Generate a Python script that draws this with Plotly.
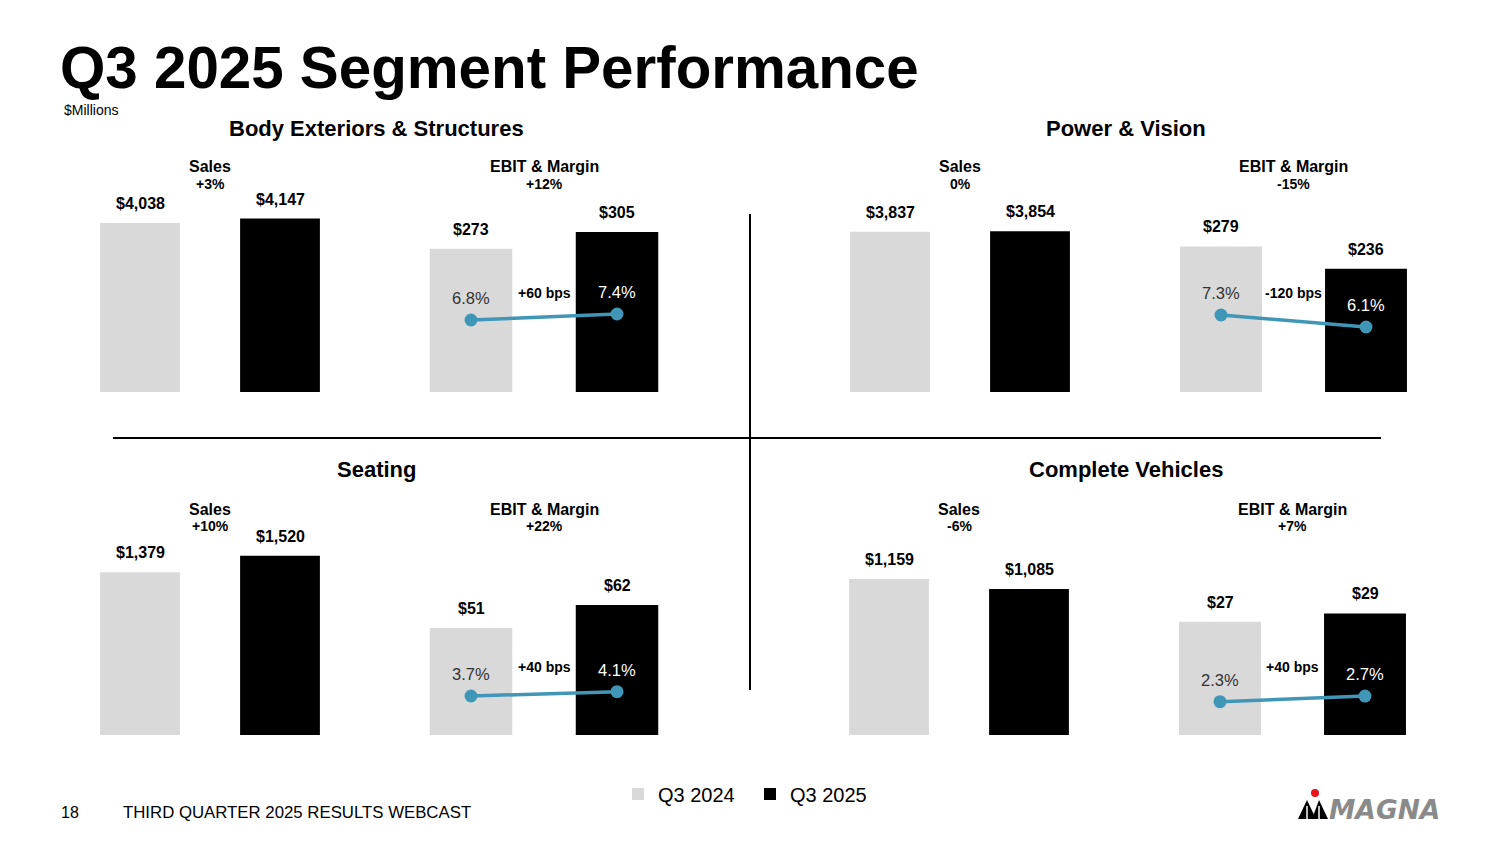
import plotly.graph_objects as go

# ---------------- data ----------------
periods = ["Q3 2024", "Q3 2025"]
segments = ["Body Exteriors & Structures", "Power & Vision", "Seating", "Complete Vehicles"]
sales_2024 = [4038, 3837, 1379, 1159]
sales_2025 = [4147, 3854, 1520, 1085]
sales_change = ["+3%", "0%", "+10%", "-6%"]
ebit_2024 = [273, 279, 51, 27]
ebit_2025 = [305, 236, 62, 29]
ebit_change = ["+12%", "-15%", "+22%", "+7%"]
margin_2024 = [6.8, 7.3, 3.7, 2.3]
margin_2025 = [7.4, 6.1, 4.1, 2.7]
margin_change = ["+60 bps", "-120 bps", "+40 bps", "+40 bps"]

# ---------------- styling / layout helpers ----------------
W, H = 1500, 844
OX, OY = 8, 8   # page body offset compensation
FONT = "Arial, Liberation Sans, sans-serif"
C_2024 = "#D9D9D9"
C_2025 = "#000000"
C_LINE = "#4096B6"


def px_x(x):
    return (x - OX) / W


def px_y(y):
    return 1 - (y - OY) / H


def sfx(n):
    return "" if n == 1 else str(n)


# per segment: (sales x px extent, ebit x px extent, y px extent [top,bottom])
seg_geom = [
    ((70, 350), (398, 690), (200, 392)),
    ((820, 1100), (1148.5, 1438.5), (200, 392)),
    ((70, 350), (398, 690), (543, 735)),
    ((819, 1099), (1147.5, 1437.5), (543, 735)),
]
sales_ranges = [4590, 4600, 1627, 1426]
ebit_ranges = [366, 368, 91.6, 45.8]
margin_ranges = [(-0.4, 18.8), (-0.4, 18.8), (0.07, 17.93), (-0.08, 13.63)]
title_pos = [(376, 129), (1126, 128), (376, 469), (1126, 469)]

fig = go.Figure()
layout = dict(
    width=W, height=H,
    margin=dict(l=0, r=0, t=0, b=0),
    paper_bgcolor="white", plot_bgcolor="rgba(0,0,0,0)",
    barmode="overlay",
    showlegend=True,
    font=dict(family=FONT, color="black"),
)
annotations = []
shapes = []

for i in range(4):
    sx, ex, (yt, yb) = seg_geom[i]
    xs = sfx(2 * i + 1)          # sales axis suffix
    xe = sfx(2 * i + 2)          # ebit axis suffix
    ym = sfx(9 + i)              # margin secondary axis suffix
    ydom = [px_y(yb), px_y(yt)]

    layout[f"xaxis{xs}"] = dict(domain=[px_x(sx[0]), px_x(sx[1])], anchor=f"y{xs}",
                                type="category", categoryarray=periods, range=[-0.5, 1.5],
                                visible=False, fixedrange=True)
    layout[f"yaxis{xs}"] = dict(domain=ydom, anchor=f"x{xs}", range=[0, sales_ranges[i]],
                                visible=False, fixedrange=True)
    layout[f"xaxis{xe}"] = dict(domain=[px_x(ex[0]), px_x(ex[1])], anchor=f"y{xe}",
                                type="category", categoryarray=periods, range=[-0.5, 1.5],
                                visible=False, fixedrange=True)
    layout[f"yaxis{xe}"] = dict(domain=ydom, anchor=f"x{xe}", range=[0, ebit_ranges[i]],
                                visible=False, fixedrange=True)
    layout[f"yaxis{ym}"] = dict(overlaying=f"y{xe}", anchor=f"x{xe}",
                                range=list(margin_ranges[i]), visible=False, fixedrange=True)

    # sales bars
    for p, vals, col in [(0, sales_2024, C_2024), (1, sales_2025, C_2025)]:
        fig.add_trace(go.Bar(
            x=[periods[p]], y=[vals[i]], xaxis=f"x{xs}", yaxis=f"y{xs}",
            marker=dict(color=col, line=dict(width=0)), width=0.57,
            name=periods[p], legendgroup=periods[p], showlegend=(i == 0),
            hoverinfo="skip",
        ))
        annotations.append(dict(
            x=periods[p], y=vals[i], xref=f"x{xs}", yref=f"y{xs}",
            text=f"<b>${vals[i]:,}</b>", showarrow=False, yanchor="bottom", yshift=9,
            font=dict(size=16, family=FONT, color="black")))
    # ebit bars
    for p, vals, col in [(0, ebit_2024, C_2024), (1, ebit_2025, C_2025)]:
        fig.add_trace(go.Bar(
            x=[periods[p]], y=[vals[i]], xaxis=f"x{xe}", yaxis=f"y{xe}",
            marker=dict(color=col, line=dict(width=0)), width=0.565,
            name=periods[p], legendgroup=periods[p], showlegend=False,
            hoverinfo="skip",
        ))
        annotations.append(dict(
            x=periods[p], y=vals[i], xref=f"x{xe}", yref=f"y{xe}",
            text=f"<b>${vals[i]:,}</b>", showarrow=False, yanchor="bottom", yshift=9,
            font=dict(size=16, family=FONT, color="black")))
    # margin line
    mvals = [margin_2024[i], margin_2025[i]]
    fig.add_trace(go.Scatter(
        x=periods, y=mvals, xaxis=f"x{xe}", yaxis=f"y{ym}",
        mode="lines+markers", line=dict(color=C_LINE, width=3.5),
        marker=dict(color=C_LINE, size=13), showlegend=False, hoverinfo="skip",
    ))
    for p, col in [(0, "#333333"), (1, "white")]:
        annotations.append(dict(
            x=periods[p], y=mvals[p], xref=f"x{xe}", yref=f"y{ym}",
            text=f"{mvals[p]:.1f}%", showarrow=False, yanchor="bottom", yshift=11,
            font=dict(size=16.5, family=FONT, color=col)))

    # headers
    hy1 = 166 if i < 2 else 509
    hy2 = 184 if i < 2 else 526
    for ax, head, chg in [(xs, "Sales", sales_change[i]), (xe, "EBIT & Margin", ebit_change[i])]:
        annotations.append(dict(x=0.5, xref=f"x{ax} domain", y=px_y(hy1), yref="paper",
                                xanchor="center", text=f"<b>{head}</b>", showarrow=False,
                                yanchor="middle", font=dict(size=16, family=FONT, color="black")))
        annotations.append(dict(x=0.5, xref=f"x{ax} domain", y=px_y(hy2), yref="paper",
                                xanchor="center", text=f"<b>{chg}</b>", showarrow=False,
                                yanchor="middle", font=dict(size=14, family=FONT, color="black")))
    # bps change
    by = 293 if i < 2 else 667
    annotations.append(dict(x=0.5, xref=f"x{xe} domain", y=px_y(by), yref="paper",
                            xanchor="center", text=f"<b>{margin_change[i]}</b>", showarrow=False,
                            yanchor="middle", font=dict(size=14, family=FONT, color="black")))
    # segment title
    tx, ty = title_pos[i]
    annotations.append(dict(x=px_x(tx), y=px_y(ty), xref="paper", yref="paper",
                            xanchor="center", text=f"<b>{segments[i]}</b>", showarrow=False,
                            yanchor="middle", font=dict(size=22, family=FONT, color="black")))

# main title and small texts
annotations += [
    dict(x=px_x(58), y=px_y(67), xref="paper", yref="paper", xanchor="left", yanchor="middle",
         text="<b>Q3 2025 Segment Performance</b>", showarrow=False,
         font=dict(size=58.3, family=FONT, color="black")),
    dict(x=px_x(62), y=px_y(110), xref="paper", yref="paper", xanchor="left", yanchor="middle",
         text="$Millions", showarrow=False, font=dict(size=14, family=FONT, color="black")),
    dict(x=px_x(59), y=px_y(812), xref="paper", yref="paper", xanchor="left", yanchor="middle",
         text="18", showarrow=False, font=dict(size=16, family=FONT, color="black")),
    dict(x=px_x(121), y=px_y(812), xref="paper", yref="paper", xanchor="left", yanchor="middle",
         text="THIRD QUARTER 2025 RESULTS WEBCAST", showarrow=False,
         font=dict(size=16.8, family=FONT, color="black")),
    dict(x=px_x(1327), y=px_y(809), xref="paper", yref="paper", xanchor="left", yanchor="middle",
         text="<b><i>MAGNA</i></b>", showarrow=False,
         font=dict(size=26.5, family="DejaVu Sans", color="#8A8A8A")),
]

# divider lines
shapes += [
    dict(type="line", xref="paper", yref="paper", x0=px_x(113), x1=px_x(1381),
         y0=px_y(438), y1=px_y(438), line=dict(color="black", width=2)),
    dict(type="line", xref="paper", yref="paper", x0=px_x(750), x1=px_x(750),
         y0=px_y(214), y1=px_y(690), line=dict(color="black", width=2)),
]


# logo icon
def path(points):
    return "M " + " L ".join(f"{px_x(a)},{px_y(b)}" for a, b in points) + " Z"


shapes += [
    dict(type="path", xref="paper", yref="paper", path=path([(1298, 819), (1307, 800), (1316, 819)]),
         fillcolor="black", line=dict(width=0)),
    dict(type="path", xref="paper", yref="paper", path=path([(1312, 819), (1319, 800), (1328, 819)]),
         fillcolor="black", line=dict(width=0)),
    dict(type="line", xref="paper", yref="paper", x0=px_x(1307), x1=px_x(1307),
         y0=px_y(806), y1=px_y(819), line=dict(color="white", width=1.5)),
    dict(type="line", xref="paper", yref="paper", x0=px_x(1319), x1=px_x(1319),
         y0=px_y(806), y1=px_y(819), line=dict(color="white", width=1.5)),
    dict(type="circle", xref="paper", yref="paper", x0=px_x(1311), x1=px_x(1319),
         y0=px_y(797), y1=px_y(789), fillcolor="#E8141B", line=dict(width=0)),
]

layout["annotations"] = annotations
layout["shapes"] = shapes
layout["legend"] = dict(orientation="h", x=px_x(750), xanchor="center", y=px_y(794), yanchor="middle",
                        font=dict(size=20, family=FONT, color="black"), traceorder="normal",
                        bgcolor="rgba(0,0,0,0)", entrywidth=87, entrywidthmode="pixels")
fig.update_layout(**layout)
fig.write_html("out.html")
